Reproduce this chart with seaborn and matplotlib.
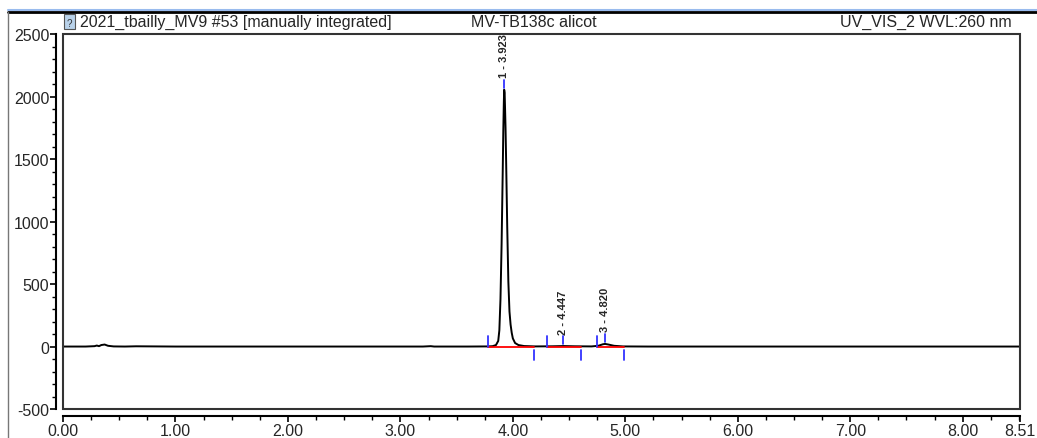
import matplotlib
matplotlib.use("Agg")
import matplotlib.pyplot as plt
import seaborn as sns
import pandas as pd
from matplotlib.lines import Line2D
from matplotlib.patches import Rectangle
from matplotlib.ticker import MultipleLocator, FixedLocator

# -------------------------------
# Chromatogram trace
# -------------------------------
time_min = [0.00, 0.20, 0.28, 0.30, 0.32, 0.34, 0.37, 0.40, 0.45, 0.55, 0.65, 1.00,
             2.00, 3.20, 3.27, 3.30, 3.60, 3.78, 3.82, 3.85, 3.87, 3.88, 3.89, 3.90,
             3.91, 3.915, 3.92, 3.923, 3.927, 3.93, 3.935, 3.94, 3.95, 3.96, 3.97,
             3.98, 3.99, 4.00, 4.02, 4.05, 4.10, 4.20, 4.35, 4.45, 4.55, 4.70,
             4.76, 4.80, 4.82, 4.85, 4.90, 4.98, 5.20, 6.00, 7.00, 8.00, 8.51]
signal_mau = [0, 0, 3, 8, 3, 12, 16, 6, 1, 0, 2, 0,
              0, 0, 3, 0, 0, 1, 3, 12, 45, 130, 380, 820,
              1400, 1720, 1960, 2055, 2030, 1930, 1750, 1500, 960, 520, 280,
              175, 110, 65, 28, 12, 4, 1, 2, 4, 2, 1,
              6, 18, 21, 16, 6, 1, 0, 0, 0, 0, 0]

# peak table
peak_rt = [3.923, 4.447, 4.820]
peak_height = [2055, 4, 21]
peak_label = ["1 - 3.923", "2 - 4.447", "3 - 4.820"]
peak_start = [3.78, 4.30, 4.75]
peak_end = [4.19, 4.61, 4.99]

title_left = "2021_tbailly_MV9 #53 [manually integrated]"
title_mid = "MV-TB138c alicot"
title_right = "UV_VIS_2 WVL:260 nm"

df = pd.DataFrame({"time": time_min, "signal": signal_mau})

# -------------------------------
# Figure
# -------------------------------
sns.set_style("white")
plt.rcParams["font.family"] = ["Liberation Sans", "DejaVu Sans"]
plt.rcParams["axes.unicode_minus"] = False

fig = plt.figure(figsize=(10.37, 4.39), dpi=100)
ax = fig.add_axes([0.0608, 0.066, 0.9228, 0.854])

sns.lineplot(data=df, x="time", y="signal", ax=ax, color="black", lw=1.4)

# integration baselines and delimiters
for s, e in zip(peak_start, peak_end):
    ax.plot([s, e], [0, 0], color="red", lw=1.3, zorder=3)
    ax.plot([s, s], [0, 85], color="#3333ff", lw=1.3, zorder=4)
    ax.plot([e, e], [-25, -110], color="#3333ff", lw=1.3, zorder=4)

for rt, h, lab in zip(peak_rt, peak_height, peak_label):
    ax.plot([rt, rt], [h + 15, h + 80], color="#3333ff", lw=1.3, zorder=4)
    ax.text(rt, h + 100, lab, rotation=90, ha="center", va="bottom",
            fontsize=8, fontweight="bold")

ax.set_xlim(0, 8.51)
ax.set_ylim(-500, 2500)
ax.set_xlabel("")
ax.set_ylabel("")

ax.xaxis.set_major_locator(FixedLocator([0, 1, 2, 3, 4, 5, 6, 7, 8, 8.51]))
ax.set_xticklabels(["0.00", "1.00", "2.00", "3.00", "4.00", "5.00", "6.00",
                    "7.00", "8.00", "8.51"])
ax.xaxis.set_minor_locator(MultipleLocator(0.25))
ax.yaxis.set_major_locator(MultipleLocator(500))
ax.yaxis.set_minor_locator(MultipleLocator(100))

ax.tick_params(axis="both", which="major", direction="out", length=4.5, width=1.2,
               labelsize=11.5, color="black", pad=0.5,
               bottom=True, left=True)
ax.tick_params(axis="both", which="minor", direction="out", length=3, width=1,
               color="black", bottom=True, left=True)

for side in ["top", "right"]:
    ax.spines[side].set_visible(False)
ax.spines["left"].set_position(("outward", 5))
ax.spines["bottom"].set_position(("outward", 5))
for side in ["left", "bottom"]:
    ax.spines[side].set_linewidth(1.5)
    ax.spines[side].set_color("black")

# inner plot frame
ax.add_patch(Rectangle((0, 0), 1, 1, transform=ax.transAxes, fill=False,
                       edgecolor="#333333", lw=1.5, clip_on=False, zorder=5))

# window borders
fig.add_artist(Line2D([0.0075, 1.0], [0.974, 0.974], color="#99bbee", lw=1.5))
fig.add_artist(Line2D([0.0075, 1.0], [0.970, 0.970], color="black", lw=2))
fig.add_artist(Line2D([0.0078, 0.0078], [0.0, 0.970], color="#777777", lw=1))

# header
fig.add_artist(Rectangle((0.0617, 0.931), 0.0105, 0.034, facecolor="#b9d2ea",
                         edgecolor="#555555", lw=0.8))
fig.text(0.0670, 0.946, "?", fontsize=7, ha="center", va="center", color="#333333")
fig.text(0.0770, 0.949, title_left, fontsize=11.5, ha="left", va="center")
fig.text(0.515, 0.949, title_mid, fontsize=11.5, ha="center", va="center")
fig.text(0.976, 0.949, title_right, fontsize=11.5, ha="right", va="center")

fig.savefig("out.png", dpi=100)
